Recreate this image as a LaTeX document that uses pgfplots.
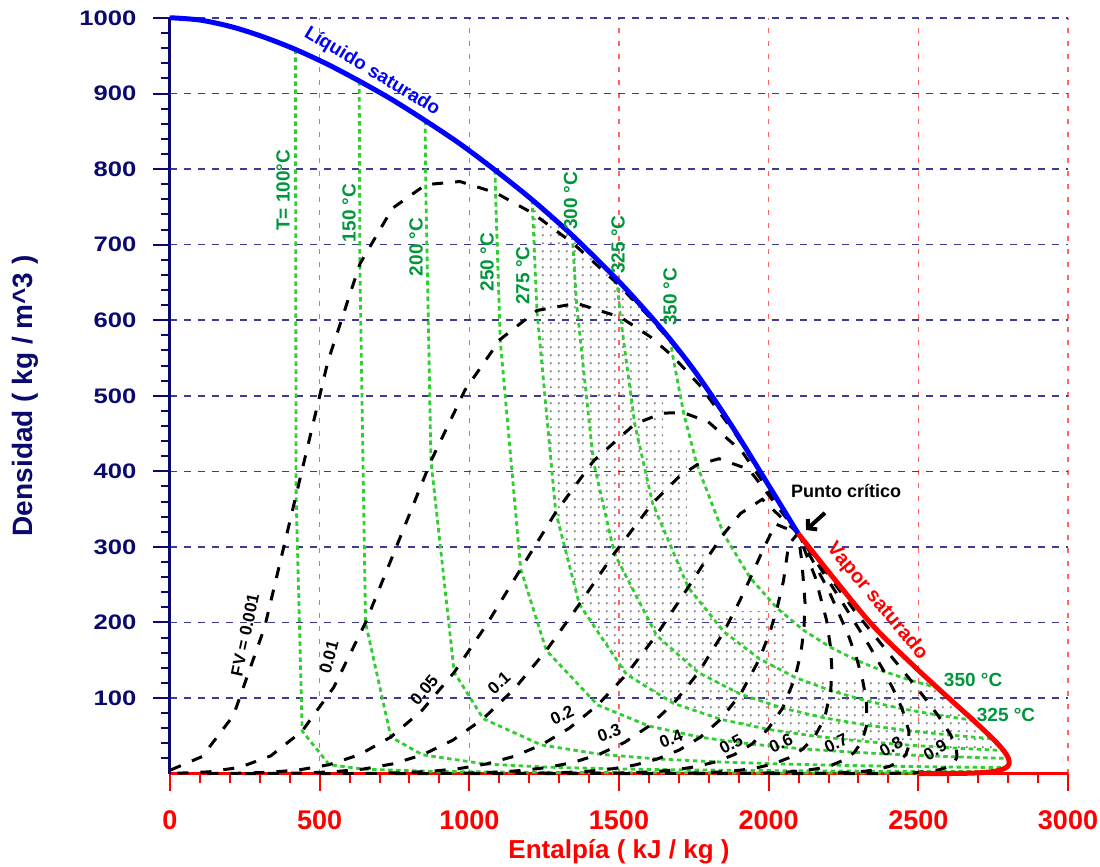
\documentclass[border=0pt]{standalone}
\usepackage{pgfplots}
\pgfplotsset{compat=1.18}
\usepackage{fontspec}
\setmainfont{Liberation Sans}
\usetikzlibrary{patterns,arrows.meta}
\definecolor{navyc}{RGB}{10,10,110}
\definecolor{gridred}{RGB}{255,100,100}
\definecolor{gridnavy}{RGB}{60,60,150}
\definecolor{isogreen}{RGB}{50,205,50}
\definecolor{labgreen}{RGB}{0,150,60}
\pgfdeclarepatternformonly{bigdots}{\pgfpointorigin}{\pgfpoint{8.3pt}{8.3pt}}{\pgfpoint{8.3pt}{8.3pt}}{\pgfpathcircle{\pgfpoint{4.15pt}{4.15pt}}{1.35pt}\pgfusepath{fill}}
\newcommand\isofont{\fontsize{19}{19}\selectfont\bfseries}
\newcommand\fvfont{\fontsize{17}{17}\selectfont\bfseries}
\begin{document}
\begin{tikzpicture}
\path[use as bounding box] (-170pt,-93.4pt) rectangle (930pt,773.6pt);
\begin{axis}[
 scale only axis, width=898pt, height=755.6pt,
 xmin=0, xmax=3000, ymin=0, ymax=1000,
 axis x line=bottom, axis y line=left,
 axis line style={-},
 x axis line style={red, line width=3.5pt},
 y axis line style={navyc, line width=3pt},
 xtick={0,500,...,3000}, ytick={100,200,...,1000},
 minor xtick={100,200,...,2900}, minor ytick={20,40,...,980},
 tick align=outside, major tick length=17pt, minor tick length=9pt,
 major x tick style={red, line width=2pt}, minor x tick style={red, line width=2pt},
 major y tick style={navyc, line width=2pt}, minor y tick style={navyc, line width=2pt},
 xmajorgrids, ymajorgrids,
 major x grid style={gridred, line width=1.6pt, dash pattern=on 5pt off 8pt},
 major y grid style={gridnavy, line width=1.5pt, dash pattern=on 7pt off 7pt},
 /pgf/number format/assume math mode=true,
 /pgf/number format/1000 sep={},
 xticklabel style={font=\fontsize{27}{27}\selectfont\bfseries, text=red, yshift=-17pt},
 yticklabel style={font=\fontsize{21}{21}\selectfont\bfseries, text=navyc, xscale=1.22, xshift=-10pt},
 xlabel={Entalpía ( kJ / kg )},
 ylabel={Densidad ( kg / m\textasciicircum 3 )},
 xlabel style={font=\fontsize{26}{26}\selectfont\bfseries, text=red, at={(axis description cs:0.5,-0.103)}, anchor=center},
 ylabel style={font=\fontsize{28}{28}\selectfont\bfseries, text=navyc, at={(axis description cs:-0.1615,0.5)}, anchor=center},
 clip=false,
]
% stippled region
\addplot[draw=none, pattern=bigdots, pattern color=gray] coordinates {
(1210,759) (1280,736) (1344,712) (1420,685) (1493,654) (1560,627) (1614,603)
(1614,494) (1647,494) (1647,432) (1727,432) (1727,305) (1794,305) (1794,215)
(2060,215) (2060,128) (2524,128) (2564,113.5) (2622,92.6) (2684,70.5) (2749,46.1) (2785,30.5)
(2626.7,33.7) (2469.3,37.7) (2311.9,42.8) (2154.5,49.5) (1997.1,58.6) (1839.7,71.9)
(1682.3,92.9) (1524.9,131.4) (1367.5,224) (1288.8,345.9) (1225.8,612.9) (1211.7,741.6)
} -- cycle;
% isotherms
\pgfplotsset{iso/.style={isogreen, line width=2.8pt, dash pattern=on 4.5pt off 3.5pt}}
\addplot[iso] coordinates {(419.0,958.4) (421.3,368.5) (441.6,56.3) (531.9,11.82) (644.7,5.95) (870.4,2.98) (1096.1,1.99) (1321.8,1.49) (1547.5,1.20) (1773.2,1.00) (1998.9,0.85) (2224.6,0.75) (2450.3,0.66) (2676.0,0.60)};
\addplot[iso] coordinates {(632.2,916.6) (634.3,674.5) (653.3,199.8) (737.9,48.4) (843.6,24.85) (1055.0,12.6) (1266.4,8.43) (1477.8,6.34) (1689.2,5.08) (1900.6,4.24) (2112.0,3.64) (2323.4,3.18) (2534.8,2.83) (2746.0,2.55)};
\addplot[iso] coordinates {(852.4,864.3) (854.3,779.4) (871.8,413.7) (949.5,134.1) (1046.5,72.7) (1240.6,37.9) (1434.7,25.7) (1628.8,19.4) (1822.9,15.6) (2017.0,13.03) (2211.1,11.19) (2405.2,9.8) (2599.3,8.73) (2793.0,7.86)};
\addplot[iso] coordinates {(1085.8,798.7) (1087.5,768.8) (1103.0,574.6) (1171.6,270.7) (1257.3,163.0) (1428.8,90.7) (1600.3,62.9) (1771.8,48.1) (1943.3,39.0) (2114.8,32.7) (2286.3,28.2) (2457.8,24.8) (2629.3,22.1) (2801.0,20.0)};
\addplot[iso] coordinates {(1210.1,759.3) (1211.7,741.6) (1225.8,612.9) (1288.8,345.9) (1367.5,224.0) (1524.9,131.4) (1682.3,92.9) (1839.7,71.9) (1997.1,58.6) (2154.5,49.5) (2311.9,42.8) (2469.3,37.7) (2626.7,33.7) (2785.0,30.5)};
\addplot[iso] coordinates {(1344.0,712.3) (1345.4,702.1) (1358.1,622.4) (1414.3,413.6) (1484.5,291.5) (1625.0,183.2) (1765.5,133.6) (1906.0,105.1) (2046.5,86.6) (2187.0,73.7) (2327.5,64.1) (2468.0,56.8) (2608.5,50.9) (2749.0,46.1)};
\addplot[iso] coordinates {(1493.0,654.0) (1494.2,648.6) (1504.9,604.0) (1552.6,462.6) (1612.1,357.9) (1731.2,246.4) (1850.3,187.8) (1969.4,151.8) (2088.5,127.3) (2207.6,109.7) (2326.7,96.3) (2445.8,85.8) (2564.9,77.4) (2684.0,70.5)};
\addplot[iso] coordinates {(1671.0,574.7) (1671.9,572.4) (1679.9,552.3) (1715.7,477.6) (1760.3,408.7) (1849.6,317.0) (1938.9,258.9) (2028.2,218.9) (2117.5,189.5) (2206.8,167.1) (2296.1,149.5) (2385.4,135.2) (2474.7,123.4) (2564.0,113.5)};
% quality lines
\pgfplotsset{fv/.style={black, line width=3pt, dash pattern=on 11pt off 12pt}}
\addplot[fv] coordinates {(2.5,4.83) (107.3,22.55) (211.7,76.7) (316.3,193.9) (421.3,368.5) (527.2,545.1) (634.3,674.5) (743.2,748.2) (854.3,779.4) (968.6,783.6) (1087.5,768.8) (1211.7,741.6) (1345.4,702.1) (1494.2,648.6) (1595.0,607.1) (1671.9,572.4) (1762.7,526.3) (1890.4,451.3) (2098,318)};
\addplot[fv] coordinates {(25.0,0.485) (129.3,2.30) (233.1,8.24) (337.2,23.6) (441.6,56.3) (546.9,114.2) (653.3,199.8) (761.5,305.3) (871.8,413.7) (985.2,507.4) (1103.0,574.6) (1225.8,612.9) (1358.1,622.4) (1504.9,604.0) (1604.3,578.2) (1679.9,552.3) (1769.2,514.0) (1894.4,446.4) (2098,318)};
\addplot[fv] coordinates {(125.0,0.097) (227.0,0.461) (328.4,1.66) (430.1,4.82) (531.9,11.82) (634.4,25.3) (737.9,48.4) (842.8,84.0) (949.5,134.1) (1058.6,197.7) (1171.6,270.7) (1288.8,345.9) (1414.3,413.6) (1552.6,462.6) (1645.4,477.1) (1715.7,477.6) (1798.0,465.6) (1912.1,425.7) (2098,318)};
\addplot[fv] coordinates {(250.1,0.0485) (349.1,0.231) (447.5,0.831) (546.1,2.415) (644.7,5.95) (743.8,12.82) (843.6,24.85) (944.4,44.1) (1046.5,72.7) (1150.4,112.1) (1257.3,163.0) (1367.5,224.0) (1484.5,291.5) (1612.1,357.9) (1696.8,391.5) (1760.3,408.7) (1833.9,416.7) (1934.2,402.6) (2098,318)};
\addplot[fv] coordinates {(500.2,0.0243) (593.3,0.115) (685.7,0.4155) (778.2,1.209) (870.4,2.983) (962.6,6.45) (1055.0,12.6) (1147.6,22.6) (1240.6,37.9) (1334.0,60.1) (1428.8,90.7) (1524.9,131.4) (1625.0,183.2) (1731.2,246.4) (1799.6,288.2) (1849.6,317.0) (1905.8,344.2) (1978.4,363.0) (2098,318)};
\addplot[fv] coordinates {(750.3,0.0162) (837.5,0.0769) (923.9,0.277) (1010.3,0.806) (1096.1,1.991) (1181.4,4.31) (1266.4,8.43) (1350.8,15.2) (1434.7,25.7) (1517.6,41.1) (1600.3,62.9) (1682.3,92.9) (1765.5,133.6) (1850.3,187.8) (1902.4,227.9) (1938.9,258.9) (1977.7,293.3) (2022.6,330.4) (2098,318)};
\addplot[fv] coordinates {(1000.4,0.0121) (1081.7,0.0577) (1162.1,0.208) (1242.4,0.605) (1321.8,1.494) (1400.2,3.24) (1477.8,6.34) (1554.0,11.45) (1628.8,19.4) (1701.2,31.2) (1771.8,48.1) (1839.7,71.9) (1906.0,105.1) (1969.4,151.8) (2005.2,188.6) (2028.2,218.9) (2049.6,255.4) (2066.8,303.2) (2098,318)};
\addplot[fv] coordinates {(1250.5,0.0097) (1325.9,0.0461) (1400.3,0.166) (1474.5,0.484) (1547.5,1.195) (1619.0,2.59) (1689.2,5.08) (1757.2,9.18) (1822.9,15.6) (1884.8,25.1) (1943.3,39.0) (1997.1,58.6) (2046.5,86.6) (2088.5,127.3) (2108.0,160.8) (2117.5,189.5) (2121.5,226.2) (2111.0,280.2) (2098,318)};
\addplot[fv] coordinates {(1500.6,0.0081) (1570.1,0.0385) (1638.5,0.1385) (1706.6,0.403) (1773.2,0.996) (1837.8,2.16) (1900.6,4.24) (1960.4,7.67) (2017.0,13.03) (2068.4,21.0) (2114.8,32.7) (2154.5,49.5) (2187.0,73.7) (2207.6,109.7) (2210.8,140.2) (2206.8,167.1) (2193.4,203.0) (2155.2,260.4) (2098,318)};
\addplot[fv] coordinates {(1750.7,0.0069) (1814.3,0.033) (1876.7,0.1187) (1938.7,0.346) (1998.9,0.854) (2056.6,1.853) (2112.0,3.635) (2163.6,6.58) (2211.1,11.19) (2252.0,18.1) (2286.3,28.2) (2311.9,42.8) (2327.5,64.1) (2326.7,96.3) (2313.6,124.2) (2296.1,149.5) (2265.3,184.2) (2199.4,243.2) (2098,318)};
\addplot[fv] coordinates {(2000.8,0.0061) (2058.5,0.0288) (2114.9,0.1039) (2170.8,0.3026) (2224.6,0.7475) (2275.4,1.622) (2323.4,3.18) (2366.8,5.76) (2405.2,9.8) (2435.6,15.9) (2457.8,24.8) (2469.3,37.7) (2468.0,56.8) (2445.8,85.8) (2416.4,111.5) (2385.4,135.2) (2337.2,168.5) (2243.6,228.2) (2098,318)};
\addplot[fv] coordinates {(2250.9,0.0054) (2302.7,0.0256) (2353.1,0.0923) (2402.9,0.269) (2450.3,0.6645) (2494.2,1.442) (2534.8,2.83) (2570.0,5.13) (2599.3,8.73) (2619.2,14.15) (2629.3,22.1) (2626.7,33.7) (2608.5,50.9) (2564.9,77.4) (2519.2,101.2) (2474.7,123.4) (2409.1,155.3) (2287.8,214.9) (2098,318)};
% saturation curves
\addplot[blue, line width=5pt, smooth] coordinates {(0.0,999.8) (16.8,1000.0) (104.9,997.0) (209.3,988.0) (314.0,974.7) (419.0,958.4) (525.0,939.0) (632.2,916.6) (741.2,892.1) (852.4,864.3) (966.8,834.0) (1085.8,798.7) (1210.1,759.3) (1344.0,712.3) (1493.0,654.0) (1594.0,610.5) (1671.0,574.7) (1762.0,527.7) (1890.0,451.9) (2098,318)};
\addplot[red, line width=5pt, smooth] coordinates {(2098,318) (2332,203.0) (2481,144.0) (2564,113.5) (2622,92.6) (2684,70.5) (2749,46.1) (2785,30.5) (2801,20.0) (2803,12.8) (2793,7.86) (2773,4.62) (2746,2.55) (2713,1.30) (2676,0.60) (2635,0.24) (2592,0.083) (2547,0.023) (2501,0.005)};
% labels
\node[rotate=-31, text=blue, font=\fontsize{19}{19}\selectfont\bfseries] at (axis cs:675,929) {Líquido saturado};
\node[rotate=-50, text=red, font=\fontsize{20}{20}\selectfont\bfseries] at (axis cs:2362,228) {Vapor saturado};
\node[font=\fontsize{18}{18}\selectfont\bfseries] at (axis cs:2259,374) {Punto crítico};
\draw[line width=4pt, -{Straight Barb[length=6pt,width=14pt]}] (axis cs:2188,345) -- (axis cs:2125,322.4);
\node[rotate=90, text=labgreen, font=\isofont] at (axis cs:377.5,772) {T= 100°C};
\node[rotate=90, text=labgreen, font=\isofont] at (axis cs:598,742) {150 °C};
\node[rotate=90, text=labgreen, font=\isofont] at (axis cs:822,697) {200 °C};
\node[rotate=90, text=labgreen, font=\isofont] at (axis cs:1059,677) {250 °C};
\node[rotate=90, text=labgreen, font=\isofont] at (axis cs:1179,659) {275 °C};
\node[rotate=90, text=labgreen, font=\isofont] at (axis cs:1338,758) {300 °C};
\node[rotate=90, text=labgreen, font=\isofont] at (axis cs:1497,700) {325 °C};
\node[rotate=90, text=labgreen, font=\isofont] at (axis cs:1671,631) {350 °C};
\node[text=labgreen, font=\isofont] at (axis cs:2683,124.5) {350 °C};
\node[text=labgreen, font=\isofont] at (axis cs:2793,77) {325 °C};
\node[rotate=78, font=\fvfont] at (axis cs:250.6,183.5) {FV = 0.001};
\node[rotate=75, font=\fvfont] at (axis cs:531,154) {0.01};
\node[rotate=50, font=\fvfont] at (axis cs:849,110.6) {0.05};
\node[rotate=42, font=\fvfont] at (axis cs:1099,120) {0.1};
\node[rotate=25, font=\fvfont] at (axis cs:1310,77.6) {0.2};
\node[rotate=20, font=\fvfont] at (axis cs:1467,53.7) {0.3};
\node[rotate=22, font=\fvfont] at (axis cs:1674,45.8) {0.4};
\node[rotate=28, font=\fvfont] at (axis cs:1874,39.2) {0.5};
\node[rotate=25, font=\fvfont] at (axis cs:2041,40.5) {0.6};
\node[rotate=25, font=\fvfont] at (axis cs:2225,40.5) {0.7};
\node[rotate=30, font=\fvfont] at (axis cs:2409,35.2) {0.8};
\node[rotate=30, font=\fvfont] at (axis cs:2556,31.2) {0.9};
\end{axis}
\end{tikzpicture}
\end{document}
